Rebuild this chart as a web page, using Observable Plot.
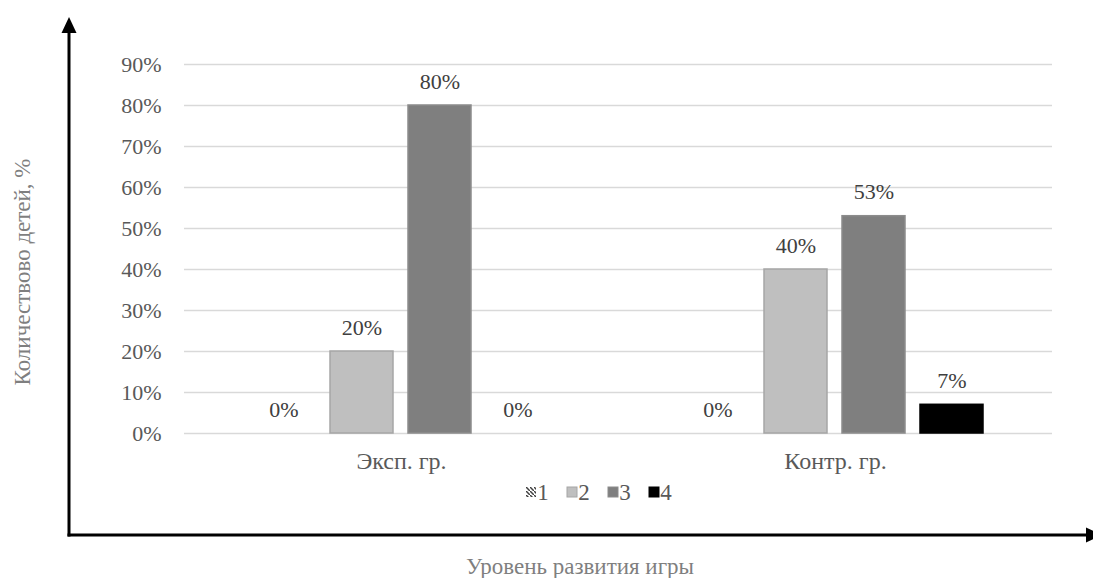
<!DOCTYPE html>
<html>
<head>
<meta charset="utf-8">
<script src="https://cdn.jsdelivr.net/npm/d3@7"></script>
<script src="https://cdn.jsdelivr.net/npm/@observablehq/plot@0.6"></script>
<style>
  html, body { margin: 0; padding: 0; background: #fff; }
  #chart { width: 1093px; height: 578px; position: relative; }
  #chart svg, #chart svg text, #chart svg g { font-family: "Liberation Serif", "Times New Roman", serif !important; }
</style>
</head>
<body>
<div id="chart"></div>
<script>
const groups = ["Эксп. гр.", "Контр. гр."];
const series = ["1", "2", "3", "4"];
const expValues = [0, 20, 80, 0];
const ctrlValues = [0, 40, 53, 7];
const yTicks = [0, 10, 20, 30, 40, 50, 60, 70, 80, 90];
const fills = ["url(#hatch1)", "#bfbfbf", "#7f7f7f", "#000000"];
const strokes = ["none", "#a6a6a6", "#8c8c8c", "#000000"];
const yTitle = "Количествово детей, %";
const xTitle = "Уровень развития игры";

const valuesByGroup = [expValues, ctrlValues];
const data = groups.flatMap((g, gi) =>
  series.map((s, si) => ({group: g, series: s, value: valuesByGroup[gi][si]}))
);

const W = 1093, H = 578;
const mL = 184, mR = 41, mT = 64, mB = 145;
const serif = "Liberation Serif, Times New Roman, serif";

const plot = Plot.plot({
  width: W, height: H,
  marginLeft: mL, marginRight: mR, marginTop: mT, marginBottom: mB,
  style: {fontFamily: serif, fontSize: "22px", color: "#595959", background: "white", overflow: "visible"},
  fx: {domain: groups, padding: 0, label: null, axis: null},
  x: {domain: series, paddingInner: 0.19, paddingOuter: 0.842, axis: null},
  y: {domain: [0, 90], ticks: yTicks, tickFormat: d => d + "%", tickSize: 0, tickPadding: 23, label: null},
  marks: [
    Plot.ruleY(yTicks, {stroke: "#d9d9d9", strokeWidth: 1.6}),
    ...series.map((s, i) => Plot.barY(data.filter(d => d.series === s), {
      fx: "group", x: "series", y: "value", fill: fills[i], stroke: strokes[i], strokeWidth: 1.5
    })),
    Plot.text(data, {fx: "group", x: "series", y: "value", text: d => d.value + "%", dy: -24, fill: "#404040", fontSize: 22, fontFamily: serif}),
    Plot.axisFx({domain: groups, anchor: "bottom", tickSize: 0, tickPadding: 18, fontSize: 24, label: null, fill: "#595959"})
  ]
});

document.getElementById("chart").appendChild(plot);

const svg = d3.select(plot);
// hatch pattern for series 1
const defs = svg.insert("defs", ":first-child");
const pat = defs.append("pattern").attr("id", "hatch1").attr("patternUnits", "userSpaceOnUse")
  .attr("width", 4).attr("height", 4);
pat.append("rect").attr("width", 4).attr("height", 4).attr("fill", "#fff");
pat.append("path").attr("d", "M0,0 L4,4").attr("stroke", "#404040").attr("stroke-width", 1.5);

const deco = svg.append("g");
// y axis with arrow
const axX = 69, axY = 535;
deco.append("line").attr("x1", axX).attr("x2", axX).attr("y1", 30).attr("y2", axY + 1.5)
  .attr("stroke", "#000").attr("stroke-width", 3);
deco.append("path").attr("d", `M${axX},17 L${axX - 7.5},33 L${axX + 7.5},33 Z`).attr("fill", "#000");
// x axis with arrow
deco.append("line").attr("x1", axX - 1.5).attr("x2", 1086).attr("y1", axY).attr("y2", axY)
  .attr("stroke", "#000").attr("stroke-width", 3);
deco.append("path").attr("d", `M1102,${axY} L1086,${axY - 7.5} L1086,${axY + 7.5} Z`).attr("fill", "#000");

// axis titles
deco.append("text").attr("transform", `translate(30,272) rotate(-90)`)
  .attr("text-anchor", "middle").attr("fill", "#7f7f7f").attr("font-size", 23).text(yTitle);
deco.append("text").attr("x", 580).attr("y", 574)
  .attr("text-anchor", "middle").attr("fill", "#7f7f7f").attr("font-size", 23).text(xTitle);

// legend
const leg = deco.append("g").attr("transform", "translate(526,487)");
series.forEach((s, i) => {
  const g = leg.append("g").attr("transform", `translate(${i * 41},0)`);
  g.append("rect").attr("width", 10).attr("height", 10).attr("fill", fills[i])
    .attr("stroke", strokes[i] === "none" ? "none" : strokes[i]).attr("stroke-width", 1);
  g.append("text").attr("x", 17).attr("y", 12.5).attr("fill", "#595959").attr("font-size", 23).text(s);
});
</script>
</body>
</html>
